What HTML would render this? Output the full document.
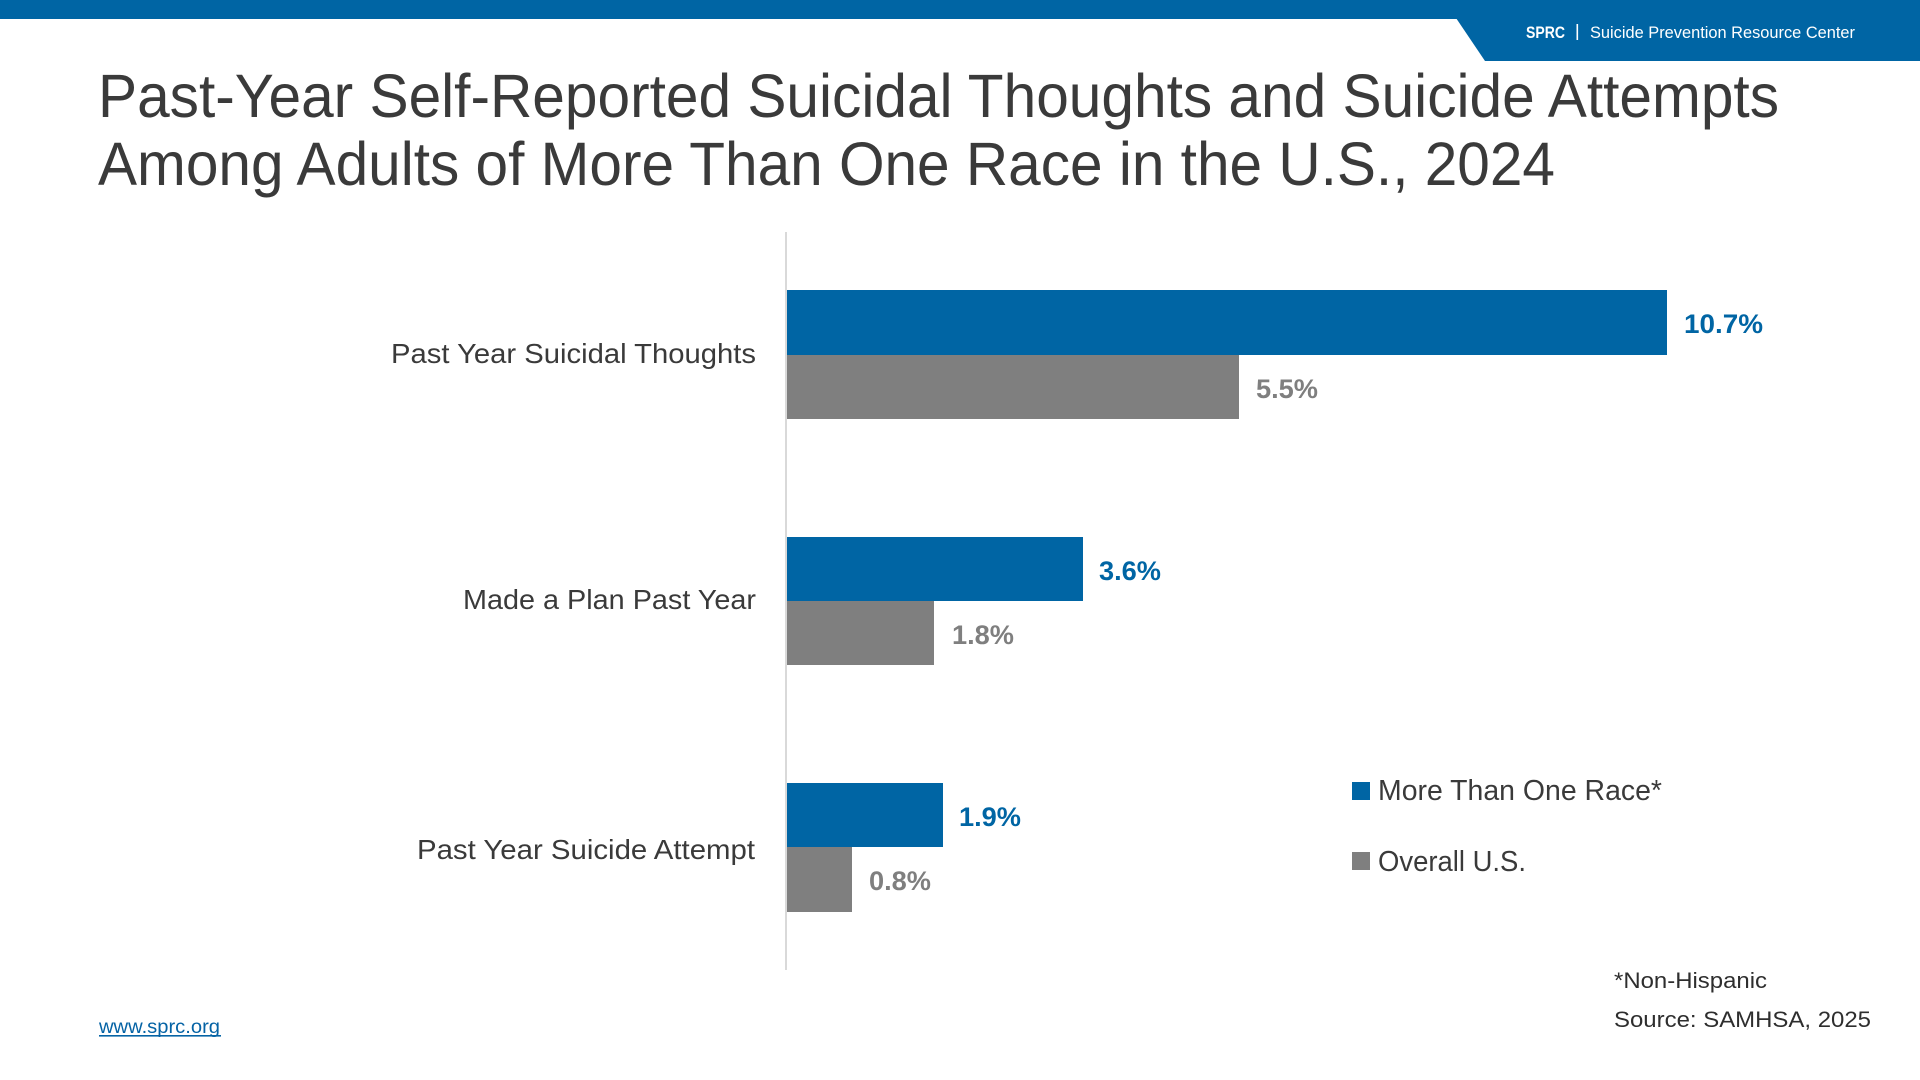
<!DOCTYPE html>
<html>
<head>
<meta charset="utf-8">
<style>
  html,body{margin:0;padding:0;background:#fff;}
  body{width:1920px;height:1080px;overflow:hidden;}
  svg{display:block;}
</style>
</head>
<body>
<svg width="1920" height="1080" viewBox="0 0 1920 1080" xmlns="http://www.w3.org/2000/svg">
  <rect x="0" y="0" width="1920" height="1080" fill="#ffffff"/>
  <!-- header bar -->
  <rect x="0" y="0" width="1920" height="19" fill="#0065a4"/>
  <polygon points="1456,18 1920,18 1920,61 1485,61" fill="#0065a4"/>
  <text x="1526" y="38" font-family="Liberation Sans, sans-serif" font-size="17" font-weight="bold" fill="#ffffff" textLength="39" lengthAdjust="spacingAndGlyphs">SPRC</text>
  <rect x="1576.5" y="24" width="1.6" height="16" fill="#ffffff"/>
  <text x="1590" y="38" font-family="Liberation Sans, sans-serif" font-size="17" fill="#ffffff" textLength="265" lengthAdjust="spacingAndGlyphs">Suicide Prevention Resource Center</text>

  <!-- title -->
  <text x="98" y="117" font-family="Liberation Sans, sans-serif" font-size="61" fill="#3a3a3a" textLength="1681" lengthAdjust="spacingAndGlyphs">Past-Year Self-Reported Suicidal Thoughts and Suicide Attempts</text>
  <text x="98" y="185" font-family="Liberation Sans, sans-serif" font-size="61" fill="#3a3a3a" textLength="1457" lengthAdjust="spacingAndGlyphs">Among Adults of More Than One Race in the U.S., 2024</text>

  <!-- axis line -->
  <rect x="785" y="232" width="2" height="738" fill="#d9d9d9"/>

  <!-- bars group 1 -->
  <rect x="787" y="290" width="880" height="65" fill="#0065a4"/>
  <rect x="787" y="355" width="452" height="64" fill="#7f7f7f"/>
  <!-- group 2 -->
  <rect x="787" y="537" width="296" height="64" fill="#0065a4"/>
  <rect x="787" y="601" width="147" height="64" fill="#7f7f7f"/>
  <!-- group 3 -->
  <rect x="787" y="783" width="156" height="64" fill="#0065a4"/>
  <rect x="787" y="847" width="65" height="65" fill="#7f7f7f"/>

  <!-- value labels -->
  <g font-family="Liberation Sans, sans-serif" font-size="27" font-weight="bold">
    <text x="1684" y="333" fill="#0065a4" textLength="79" lengthAdjust="spacingAndGlyphs">10.7%</text>
    <text x="1256" y="398" fill="#7f7f7f" textLength="62" lengthAdjust="spacingAndGlyphs">5.5%</text>
    <text x="1099" y="580" fill="#0065a4" textLength="62" lengthAdjust="spacingAndGlyphs">3.6%</text>
    <text x="952" y="644" fill="#7f7f7f" textLength="62" lengthAdjust="spacingAndGlyphs">1.8%</text>
    <text x="959" y="826" fill="#0065a4" textLength="62" lengthAdjust="spacingAndGlyphs">1.9%</text>
    <text x="869" y="890" fill="#7f7f7f" textLength="62" lengthAdjust="spacingAndGlyphs">0.8%</text>
  </g>

  <!-- category labels -->
  <g font-family="Liberation Sans, sans-serif" font-size="28" fill="#3a3a3a">
    <text x="391" y="363" textLength="365" lengthAdjust="spacingAndGlyphs">Past Year Suicidal Thoughts</text>
    <text x="463" y="609" textLength="293" lengthAdjust="spacingAndGlyphs">Made a Plan Past Year</text>
    <text x="417" y="859" textLength="338" lengthAdjust="spacingAndGlyphs">Past Year Suicide Attempt</text>
  </g>

  <!-- legend -->
  <rect x="1352" y="782" width="18" height="18" fill="#0065a4"/>
  <rect x="1352" y="852" width="18" height="18" fill="#7f7f7f"/>
  <g font-family="Liberation Sans, sans-serif" font-size="29" fill="#3a3a3a">
    <text x="1378" y="800" textLength="284" lengthAdjust="spacingAndGlyphs">More Than One Race*</text>
    <text x="1378" y="871" textLength="148" lengthAdjust="spacingAndGlyphs">Overall U.S.</text>
  </g>

  <!-- notes -->
  <g font-family="Liberation Sans, sans-serif" font-size="22" fill="#2e2e2e">
    <text x="1614" y="988" textLength="153" lengthAdjust="spacingAndGlyphs">*Non-Hispanic</text>
    <text x="1614" y="1027" textLength="257" lengthAdjust="spacingAndGlyphs">Source: SAMHSA, 2025</text>
  </g>

  <!-- footer link -->
  <text x="99" y="1033" font-family="Liberation Sans, sans-serif" font-size="19" fill="#0563a5" textLength="121" lengthAdjust="spacingAndGlyphs">www.sprc.org</text>
  <rect x="99" y="1035" width="122" height="1.6" fill="#0563a5"/>
</svg>
</body>
</html>
